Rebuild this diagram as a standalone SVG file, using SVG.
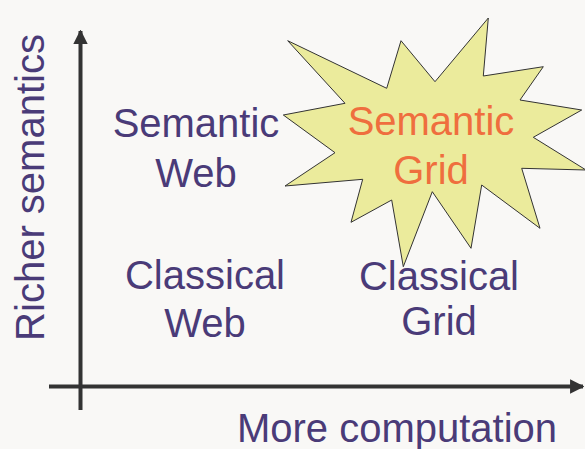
<svg xmlns="http://www.w3.org/2000/svg" width="585" height="449" viewBox="0 0 585 449">
<style>
.lbl{font-family:"Liberation Sans",Arial,sans-serif;font-size:40px;fill:#4a3b78;text-anchor:middle}
.hot{fill:#ef6e3e}
.axis{stroke:#333333;stroke-width:4;fill:none}
</style>
<defs>
<marker id="arr" viewBox="0 0 10 10" refX="9" refY="5" markerWidth="3.6" markerHeight="3.6" orient="auto" markerUnits="strokeWidth">
<path d="M0,0 L10,5 L0,10 Z" fill="#333333"/>
</marker>
</defs>
<rect width="585" height="449" fill="#f9f8f6"/>
<g id="connectors">
<line class="axis" x1="80.5" y1="410" x2="80.5" y2="31" marker-end="url(#arr)"/>
<line class="axis" x1="49" y1="386.5" x2="583" y2="386.5" marker-end="url(#arr)"/>
</g>
<g id="semantic-grid">
<polygon points="287.7,40.7 386.7,88.3 401,40.7 435,81.7 488.3,18 483.3,76 543.3,66.7 520,100 581.7,110 533.3,137.3 586,170 521.7,168.3 540,228.3 481.7,185 471,248.3 432.3,191.7 403.3,266.7 391.7,200 351,222.3 362.7,179.3 285,186 335,152.7 283.3,115 345,103.3" fill="#ebeb9c" stroke="#333333" stroke-width="1"/>
<text class="lbl hot" x="431" y="135">Semantic</text>
<text class="lbl hot" x="431" y="184">Grid</text>
</g>
<g id="semantic-web">
<text class="lbl" x="196" y="137">Semantic</text>
<text class="lbl" x="196" y="187">Web</text>
</g>
<g id="classical-web">
<text class="lbl" x="205" y="289">Classical</text>
<text class="lbl" x="205" y="337">Web</text>
</g>
<g id="classical-grid">
<text class="lbl" x="439" y="290">Classical</text>
<text class="lbl" x="439" y="335">Grid</text>
</g>
<g id="x-label">
<text class="lbl" x="397" y="442">More computation</text>
</g>
<g id="y-label">
<text class="lbl" transform="translate(44,187.5) rotate(-90)" x="0" y="0">Richer semantics</text>
</g>
</svg>
